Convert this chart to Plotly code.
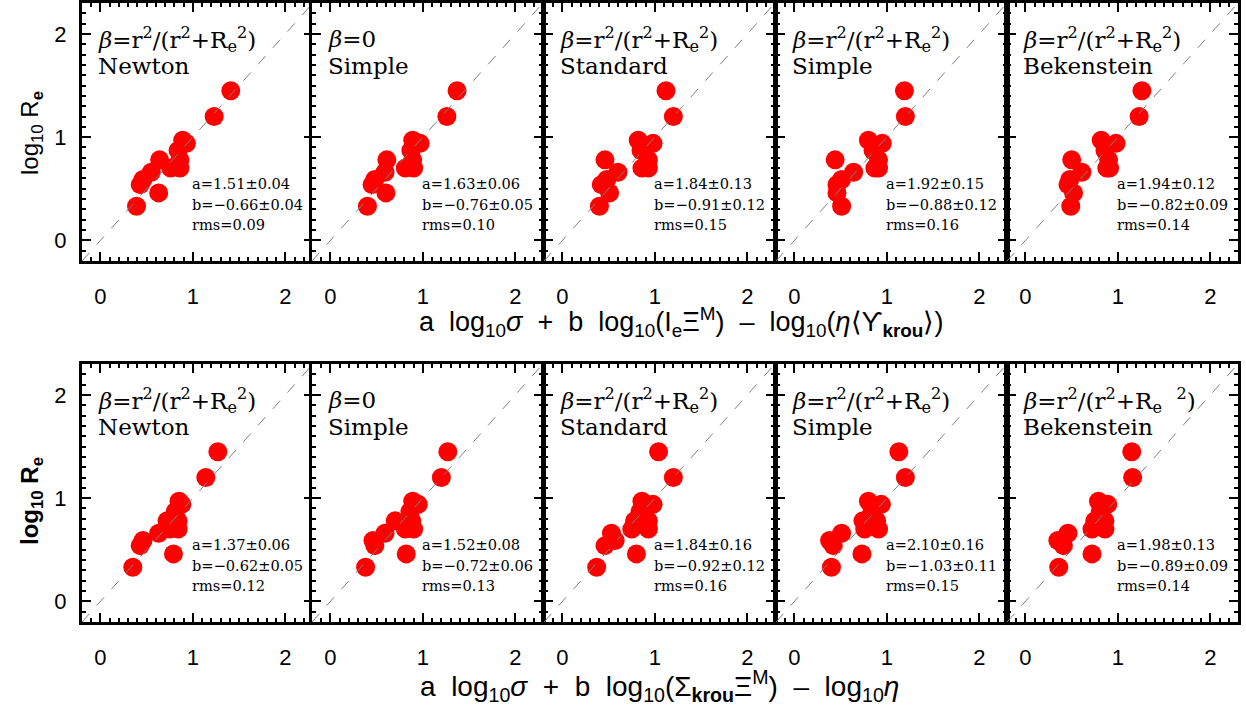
import plotly.graph_objects as go

# ---------------- data ----------------
log_re = [1.45, 1.20, 0.97, 0.94, 0.87, 0.78, 0.70, 0.70, 0.78, 0.66, 0.59, 0.54, 0.46, 0.33]

# top row: x = a log sigma + b log(Ie Xi) - log(eta <Y>)
x_top_newton     = [1.41, 1.23, 0.89, 0.93, 0.84, 0.86, 0.76, 0.86, 0.64, 0.55, 0.46, 0.43, 0.63, 0.39]
x_top_simple0    = [1.37, 1.26, 0.89, 0.97, 0.87, 0.89, 0.81, 0.90, 0.61, 0.59, 0.48, 0.45, 0.60, 0.40]
x_top_standard   = [1.12, 1.20, 0.82, 0.98, 0.85, 0.93, 0.86, 0.93, 0.46, 0.60, 0.48, 0.42, 0.51, 0.40]
x_top_simple     = [1.19, 1.20, 0.80, 0.95, 0.85, 0.91, 0.87, 0.91, 0.44, 0.64, 0.51, 0.46, 0.46, 0.51]
x_top_bekenstein = [1.26, 1.23, 0.82, 0.98, 0.86, 0.90, 0.88, 0.91, 0.50, 0.61, 0.48, 0.46, 0.52, 0.49]

# bottom row: x = a log sigma + b log(Sigma Xi) - log eta
x_bot_newton     = [1.27, 1.14, 0.85, 0.88, 0.81, 0.84, 0.75, 0.84, 0.72, 0.63, 0.46, 0.43, 0.79, 0.35]
x_bot_simple0    = [1.27, 1.20, 0.89, 0.95, 0.86, 0.88, 0.81, 0.90, 0.70, 0.59, 0.46, 0.48, 0.82, 0.38]
x_bot_standard   = [1.04, 1.20, 0.86, 0.98, 0.84, 0.93, 0.75, 0.93, 0.78, 0.53, 0.57, 0.46, 0.80, 0.37]
x_bot_simple     = [1.13, 1.20, 0.80, 0.94, 0.84, 0.89, 0.76, 0.91, 0.74, 0.51, 0.38, 0.42, 0.73, 0.40]
x_bot_bekenstein = [1.15, 1.16, 0.79, 0.89, 0.81, 0.86, 0.72, 0.86, 0.75, 0.46, 0.35, 0.41, 0.72, 0.36]

models = ["Newton", "Simple", "Standard", "Simple", "Bekenstein"]
beta_general = "<i>β</i>=r<sup>2</sup>/(r<sup>2</sup>+R<sub>e</sub><sup>2</sup>)"
beta_zero = "<i>β</i>=0"
beta_top = [beta_general, beta_zero, beta_general, beta_general, beta_general]
beta_bot = [beta_general, beta_zero, beta_general, beta_general,
            "<i>β</i>=r<sup>2</sup>/(r<sup>2</sup>+R<sub>e</sub>&nbsp;&nbsp;<sup>2</sup>)"]

a_top = ["1.51±0.04", "1.63±0.06", "1.84±0.13", "1.92±0.15", "1.94±0.12"]
b_top = ["−0.66±0.04", "−0.76±0.05", "−0.91±0.12", "−0.88±0.12", "−0.82±0.09"]
rms_top = ["0.09", "0.10", "0.15", "0.16", "0.14"]
a_bot = ["1.37±0.06", "1.52±0.08", "1.84±0.16", "2.10±0.16", "1.98±0.13"]
b_bot = ["−0.62±0.05", "−0.72±0.06", "−0.92±0.12", "−1.03±0.11", "−0.89±0.09"]
rms_bot = ["0.12", "0.13", "0.16", "0.15", "0.14"]

tick_vals = [0, 1, 2]
tick_text = ["0", "1", "2"]
AX_RANGE = [-0.2, 2.3]

xtitle_top = ("a  log<sub>10</sub><i>σ</i>  +  b  log<sub>10</sub>(I<sub>e</sub>Ξ<sup>M</sup>)"
              "  –  log<sub>10</sub>(<i>η</i>⟨ϒ<sub><b>krou</b></sub>⟩)")
xtitle_bot = ("a  log<sub>10</sub><i>σ</i>  +  b  log<sub>10</sub>(Σ<sub><b>krou</b></sub>Ξ<sup>M</sup>)"
              "  –  log<sub>10</sub><i>η</i>")
ytitle_top = "log<sub>10</sub> R<sub><b>e</b></sub>"
ytitle_bot = "<b>log<sub>10</sub> R<sub>e</sub></b>"

# ---------------- layout geometry (pixels) ----------------
W, H = 1246, 710
lefts = [82, 312, 544, 776, 1007]
pw = 231
rows_px = [(3, 261), (364, 622)]

SANS = "Liberation Sans Narrow, Liberation Sans, Arial, sans-serif"
TICKFONT = dict(family=SANS, size=22, color="black")
SERIF = "DejaVu Serif, Liberation Serif, serif"

rows = [
    dict(xs=[x_top_newton, x_top_simple0, x_top_standard, x_top_simple, x_top_bekenstein],
         beta=beta_top, a=a_top, b=b_top, rms=rms_top),
    dict(xs=[x_bot_newton, x_bot_simple0, x_bot_standard, x_bot_simple, x_bot_bekenstein],
         beta=beta_bot, a=a_bot, b=b_bot, rms=rms_bot),
]

fig = go.Figure()
annotations = []
layout_axes = {}

k = 0
for r, row in enumerate(rows):
    top_px, bot_px = rows_px[r]
    ydom = [1 - bot_px / H, 1 - top_px / H]
    for c in range(5):
        k += 1
        xname = "x" if k == 1 else f"x{k}"
        yname = "y" if k == 1 else f"y{k}"
        xdom = [lefts[c] / W, min(lefts[c] + pw, W - 7) / W]
        common = dict(range=AX_RANGE, showgrid=False, zeroline=False, showline=True,
                      linecolor="black", linewidth=3, mirror="ticks",
                      ticks="inside", ticklen=9, tickwidth=2, tickcolor="black",
                      tickvals=tick_vals, ticktext=tick_text, tickfont=TICKFONT,
                      minor=dict(ticks="inside", dtick=0.1, ticklen=4, tickwidth=1.5,
                                 tickcolor="black", showgrid=False),
                      fixedrange=True)
        layout_axes["xaxis" if k == 1 else f"xaxis{k}"] = dict(
            domain=xdom, anchor=yname, ticklabelstandoff=14, **common)
        layout_axes["yaxis" if k == 1 else f"yaxis{k}"] = dict(
            domain=ydom, anchor=xname, showticklabels=(c == 0), ticklabelstandoff=8, **common)

        fig.add_trace(go.Scatter(x=row["xs"][c], y=log_re, mode="markers",
                                 marker=dict(color="#ff0000", size=19, line=dict(width=0)),
                                 xaxis=xname, yaxis=yname, showlegend=False,
                                 hoverinfo="x+y"))
        fig.add_trace(go.Scatter(x=AX_RANGE, y=AX_RANGE, mode="lines",
                                 line=dict(color="#808080", width=1, dash="11px,11px"),
                                 xaxis=xname, yaxis=yname, showlegend=False,
                                 hoverinfo="skip"))

        annotations.append(dict(x=-0.05, y=1.95, xref=xname, yref=yname, text=row["beta"][c],
                                showarrow=False, xanchor="left", yanchor="middle",
                                font=dict(family=SERIF, size=23, color="black")))
        annotations.append(dict(x=-0.05, y=1.69, xref=xname, yref=yname, text=models[c],
                                showarrow=False, xanchor="left", yanchor="middle",
                                font=dict(family=SERIF, size=23, color="black")))
        for yy, txt in zip([0.55, 0.35, 0.15],
                           ["a=" + row["a"][c], "b=" + row["b"][c], "rms=" + row["rms"][c]]):
            annotations.append(dict(x=0.965, y=yy, xref=xname, yref=yname, text=txt,
                                    showarrow=False, xanchor="left", yanchor="middle",
                                    font=dict(family=SERIF, size=14.6, color="black")))

TITLEFONT = dict(family=SANS, size=27, color="black")
annotations += [
    dict(x=681 / W, y=1 - 322 / H, xref="paper", yref="paper", text=xtitle_top, showarrow=False,
         xanchor="center", yanchor="middle", font=TITLEFONT),
    dict(x=660 / W, y=1 - 686 / H, xref="paper", yref="paper", text=xtitle_bot, showarrow=False,
         xanchor="center", yanchor="middle", font=dict(family=SANS, size=28, color="black")),
    dict(x=32 / W, y=1 - 133 / H, xref="paper", yref="paper", text=ytitle_top, showarrow=False,
         textangle=-90, xanchor="center", yanchor="middle", font=dict(family=SANS, size=24, color="black")),
    dict(x=32 / W, y=1 - 501 / H, xref="paper", yref="paper", text=ytitle_bot, showarrow=False,
         textangle=-90, xanchor="center", yanchor="middle", font=dict(family=SANS, size=24, color="black")),
]

fig.update_layout(width=W, height=H, margin=dict(l=0, r=0, t=0, b=0),
                  paper_bgcolor="white", plot_bgcolor="white",
                  annotations=annotations, showlegend=False, **layout_axes)

fig.write_html("out.html", config={"displayModeBar": False},
               post_script="document.body.style.margin='0';document.body.style.padding='0';")
